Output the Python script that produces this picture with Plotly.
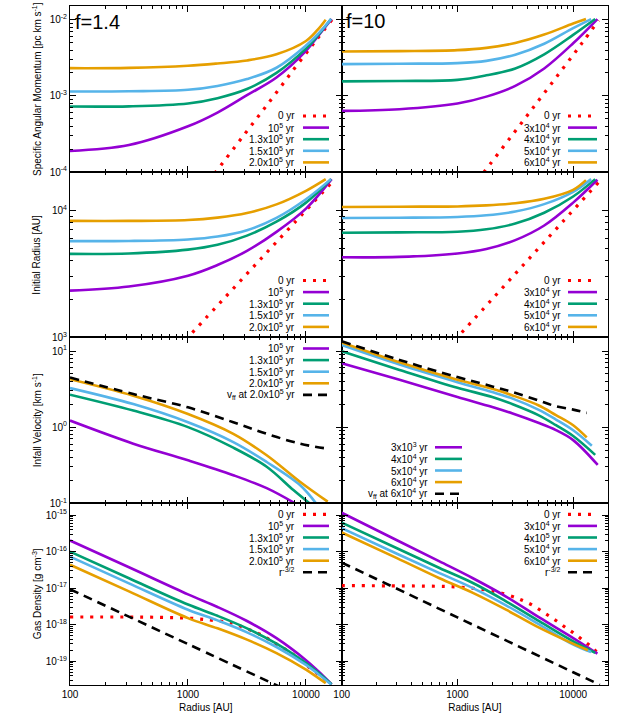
import plotly.graph_objects as go

PURPLE = "#9400D3"; GREEN = "#009E73"; BLUE = "#56B4E9"; ORANGE = "#E69F00"; RED = "#FF0000"; BLACK = "#000000"
FONT = "Liberation Sans, Arial, sans-serif"

# ---------------- data: row 1, specific angular momentum [pc km/s] ----------------
# f = 1.4
j14_r0 = [1500, 1720, 3000, 5000, 8000, 12000, 16600]
j14_v0 = [7.6e-5, 1.0e-4, 3.1e-4, 8.7e-4, 2.3e-3, 5.2e-3, 1.0e-2]
j14_r1 = [100, 316, 1000, 1778, 3162, 5623, 10000, 12589, 16500]
j14_v1 = [1.89e-4, 2.26e-4, 3.98e-4, 6.03e-4, 1.02e-3, 1.74e-3, 3.89e-3, 6.03e-3, 1.02e-2]
j14_r2 = [100, 316, 1000, 1778, 3162, 5623, 10000, 12589, 16300]
j14_v2 = [7.24e-4, 7.28e-4, 7.94e-4, 9.33e-4, 1.23e-3, 2.0e-3, 4.17e-3, 6.17e-3, 1.02e-2]
j14_r3 = [100, 316, 1000, 1778, 3162, 5623, 10000, 12589, 16300]
j14_v3 = [1.14e-3, 1.15e-3, 1.20e-3, 1.35e-3, 1.66e-3, 2.34e-3, 4.57e-3, 6.46e-3, 1.02e-2]
j14_r4 = [100, 316, 1000, 1778, 3162, 5623, 10000, 12589, 14700]
j14_v4 = [2.31e-3, 2.33e-3, 2.48e-3, 2.66e-3, 2.92e-3, 3.51e-3, 5.25e-3, 7.41e-3, 1.0e-2]
# f = 10
j10_r0 = [1500, 1700, 3000, 5000, 8000, 12000, 16600]
j10_v0 = [7.8e-5, 1.0e-4, 3.1e-4, 8.6e-4, 2.2e-3, 5.0e-3, 9.8e-3]
j10_r1 = [100, 316, 1000, 1778, 3162, 5623, 10000, 16200]
j10_v1 = [6.35e-4, 6.68e-4, 7.94e-4, 9.77e-4, 1.35e-3, 2.29e-3, 4.90e-3, 1.02e-2]
j10_r2 = [100, 316, 1000, 1778, 3162, 5623, 10000, 15500]
j10_v2 = [1.55e-3, 1.57e-3, 1.62e-3, 1.86e-3, 2.29e-3, 3.51e-3, 6.31e-3, 1.02e-2]
j10_r3 = [100, 316, 1000, 1778, 3162, 5623, 10000, 14300]
j10_v3 = [2.61e-3, 2.64e-3, 2.69e-3, 2.88e-3, 3.47e-3, 4.84e-3, 7.76e-3, 1.02e-2]
j10_r4 = [100, 316, 1000, 1778, 3162, 5623, 10000, 12900]
j10_v4 = [3.83e-3, 3.87e-3, 3.98e-3, 4.27e-3, 4.95e-3, 6.38e-3, 8.91e-3, 1.02e-2]

# ---------------- data: row 2, initial radius [AU] ----------------
ri14_r0 = [950, 2000, 4000, 8000, 16600]
ri14_v0 = [950, 2000, 4000, 8000, 16600]
ri14_r1 = [100, 316, 1000, 1778, 3162, 5623, 10000, 16500]
ri14_v1 = [2328, 2512, 3055, 3707, 4786, 6761, 10304, 17579]
ri14_r2 = [100, 316, 1000, 1778, 3162, 5623, 10000, 16300]
ri14_v2 = [4539, 4571, 4898, 5346, 6310, 8128, 11482, 17579]
ri14_r3 = [100, 316, 1000, 1778, 3162, 5623, 10000, 16300]
ri14_v3 = [5715, 5728, 5888, 6209, 6966, 8710, 12218, 17579]
ri14_r4 = [100, 316, 1000, 1778, 3162, 5623, 10000, 14700]
ri14_v4 = [8241, 8241, 8375, 8750, 9506, 11117, 14223, 17579]
ri10_r0 = [950, 2000, 4000, 8000, 16600]
ri10_v0 = [950, 2000, 4000, 8000, 16600]
ri10_r1 = [100, 316, 1000, 1778, 3162, 5623, 10000, 16200]
ri10_v1 = [4266, 4295, 4571, 4955, 5821, 7586, 11482, 17378]
ri10_r2 = [100, 316, 1000, 1778, 3162, 5623, 10000, 15500]
ri10_v2 = [6653, 6699, 6776, 7079, 7852, 9550, 12823, 17579]
ri10_r3 = [100, 316, 1000, 1778, 3162, 5623, 10000, 14300]
ri10_v3 = [8690, 8730, 8851, 9120, 9772, 11169, 13964, 17579]
ri10_r4 = [100, 316, 1000, 1778, 3162, 5623, 10000, 12900]
ri10_v4 = [10617, 10666, 10715, 10914, 11350, 12303, 14488, 17258]

# ---------------- data: row 3, infall velocity [km/s] ----------------
v14_r1 = [100, 344, 1000, 2421, 4645, 8070]
v14_v1 = [1.22, 0.607, 0.367, 0.234, 0.158, 0.100]
v14_r2 = [100, 344, 1000, 2421, 4645, 7820, 10700]
v14_v2 = [2.67, 1.65, 1.0, 0.537, 0.302, 0.149, 0.100]
v14_r3 = [100, 344, 1000, 2421, 4645, 8890, 12160]
v14_v3 = [3.26, 2.01, 1.16, 0.637, 0.349, 0.174, 0.100]
v14_r4 = [100, 344, 1000, 2421, 4645, 8890, 15280]
v14_v4 = [4.27, 2.59, 1.49, 0.818, 0.427, 0.192, 0.105]
v14_rff = [100, 344, 1000, 2421, 4645, 8890, 15280]
v14_vff = [4.49, 2.72, 1.82, 1.16, 0.818, 0.607, 0.521]
v10_r1 = [100, 316, 1000, 2000, 3000, 5000, 7100, 10000, 16300]
v10_v1 = [6.90, 4.19, 2.49, 1.84, 1.51, 1.14, 0.914, 0.676, 0.319]
v10_r2 = [100, 316, 1000, 2000, 3000, 5000, 7100, 10000, 15500]
v10_v2 = [9.91, 5.65, 3.29, 2.49, 2.0, 1.44, 1.06, 0.764, 0.432]
v10_r3 = [100, 316, 1000, 2000, 3000, 5000, 7100, 10000, 14500]
v10_v3 = [11.97, 6.64, 3.90, 2.89, 2.37, 1.70, 1.26, 0.912, 0.571]
v10_r4 = [100, 316, 1000, 2000, 3000, 5000, 7100, 10000, 13100]
v10_v4 = [12.97, 7.11, 4.19, 3.19, 2.61, 1.94, 1.44, 1.06, 0.733]
v10_rff = [100, 316, 1000, 2000, 3000, 5000, 7100, 10000, 13100]
v10_vff = [13.4, 7.64, 4.54, 3.43, 2.89, 2.25, 1.88, 1.70, 1.54]

# ---------------- data: row 4, gas density [g/cm^3] ----------------
d14_r0 = [100, 300, 600, 1000, 1500, 2130, 2500, 3040, 3700, 4350, 5120, 6030, 7080, 8320, 10100, 11900, 14000, 16000]
d14_v0 = [1.62e-18, 1.62e-18, 1.58e-18, 1.51e-18, 1.35e-18, 1.17e-18, 1.05e-18, 8.13e-19, 6.31e-19, 4.90e-19,
          3.55e-19, 2.57e-19, 1.91e-19, 1.32e-19, 7.76e-20, 5.13e-20, 3.55e-20, 2.51e-20]
d14_r1 = [100, 316, 1000, 1778, 3162, 5623, 10000, 12589, 16500]
d14_v1 = [2.0e-16, 3.72e-17, 6.76e-18, 3.05e-18, 1.26e-18, 4.27e-19, 1.07e-19, 5.50e-20, 2.34e-20]
d14_r2 = [100, 316, 1000, 1778, 3162, 5623, 10000, 12589, 16500]
d14_v2 = [1.0e-16, 1.86e-17, 3.55e-18, 1.75e-18, 7.94e-19, 3.02e-19, 8.91e-20, 5.01e-20, 2.34e-20]
d14_r3 = [100, 316, 1000, 1778, 3162, 5623, 10000, 12589, 16300]
d14_v3 = [7.24e-17, 1.35e-17, 2.57e-18, 1.31e-18, 6.17e-19, 2.45e-19, 7.94e-20, 4.57e-20, 2.34e-20]
d14_r4 = [100, 316, 1000, 1778, 3162, 5623, 10000, 12589, 14700]
d14_v4 = [4.37e-17, 8.13e-18, 1.51e-18, 7.94e-19, 3.89e-19, 1.66e-19, 5.89e-20, 3.55e-20, 2.51e-20]
d14_rpl = [100, 1000, 6000]
d14_vpl = [9.3e-18, 2.94e-19, 2.0e-20]
d10_r0 = [100, 700, 1000, 1500, 2240, 3240, 3800, 4470, 5300, 6250, 7360, 8710, 10230, 12100, 14300, 16200]
d10_v0 = [1.17e-17, 1.12e-17, 1.07e-17, 9.55e-18, 7.76e-18, 5.37e-18, 4.37e-18, 3.39e-18, 2.40e-18, 1.70e-18,
          1.20e-18, 8.13e-19, 5.75e-19, 3.80e-19, 2.51e-19, 1.70e-19]
d10_r1 = [100, 300, 700, 1360, 2630, 5130, 9930, 16200]
d10_v1 = [1.15e-15, 2.04e-16, 5.37e-17, 1.86e-17, 5.89e-18, 1.55e-18, 4.37e-19, 1.62e-19]
d10_r2 = [100, 300, 700, 1360, 2630, 5130, 9930, 15500]
d10_v2 = [6.17e-16, 1.23e-16, 3.55e-17, 1.38e-17, 4.37e-18, 1.23e-18, 3.55e-19, 1.70e-19]
d10_r3 = [100, 300, 700, 1360, 2630, 5130, 9930, 14300]
d10_v3 = [4.37e-16, 8.71e-17, 2.57e-17, 1.0e-17, 3.39e-18, 1.0e-18, 2.88e-19, 1.78e-19]
d10_r4 = [100, 300, 700, 1360, 2630, 5130, 9930, 13400]
d10_v4 = [3.31e-16, 6.61e-17, 1.86e-17, 7.41e-18, 2.57e-18, 8.13e-19, 3.02e-19, 2.0e-19]
d10_rpl = [100, 1000, 10000, 17000]
d10_vpl = [5.0e-17, 1.58e-18, 5.0e-20, 2.26e-20]

# ---------------- labels ----------------
lab14 = ["0 yr", "10<sup>5</sup> yr", "1.3x10<sup>5</sup> yr", "1.5x10<sup>5</sup> yr", "2.0x10<sup>5</sup> yr"]
lab10 = ["0 yr", "3x10<sup>4</sup> yr", "4x10<sup>4</sup> yr", "5x10<sup>4</sup> yr", "6x10<sup>4</sup> yr"]
lab_v14 = lab14[1:] + ["v<sub>ff</sub> at 2.0x10<sup>5</sup> yr"]
lab_v10 = ["3x10<sup>3</sup> yr", "4x10<sup>4</sup> yr", "5x10<sup>4</sup> yr", "6x10<sup>4</sup> yr",
           "v<sub>ff</sub> at 6x10<sup>4</sup> yr"]
lab_d14 = lab14 + ["r<sup>-3/2</sup>"]
lab_d10 = ["0 yr", "3x10<sup>4</sup> yr", "4x10<sup>5</sup> yr", "5x10<sup>4</sup> yr", "6x10<sup>4</sup> yr",
           "r<sup>-3/2</sup>"]
ytitles = ["Specific Angular Momentum [pc km s<sup>-1</sup>]", "Initial Radius [AU]",
           "Infall Velocity [km s<sup>-1</sup>]", "Gas Density [g cm<sup>-3</sup>]"]
xtick_vals = [100, 1000, 10000]
xtick_text = ["100", "1000", "10000"]

DOT = "3px,7px"
DASH = "9px,6px"
S_RED = (RED, DOT); S_P = (PURPLE, "solid"); S_G = (GREEN, "solid"); S_B = (BLUE, "solid")
S_O = (ORANGE, "solid"); S_K = (BLACK, DASH)

panels = {
    (0, 0): ([(j14_r0, j14_v0, S_RED), (j14_r1, j14_v1, S_P), (j14_r2, j14_v2, S_G), (j14_r3, j14_v3, S_B), (j14_r4, j14_v4, S_O)], lab14),
    (0, 1): ([(j10_r0, j10_v0, S_RED), (j10_r1, j10_v1, S_P), (j10_r2, j10_v2, S_G), (j10_r3, j10_v3, S_B), (j10_r4, j10_v4, S_O)], lab10),
    (1, 0): ([(ri14_r0, ri14_v0, S_RED), (ri14_r1, ri14_v1, S_P), (ri14_r2, ri14_v2, S_G), (ri14_r3, ri14_v3, S_B), (ri14_r4, ri14_v4, S_O)], lab14),
    (1, 1): ([(ri10_r0, ri10_v0, S_RED), (ri10_r1, ri10_v1, S_P), (ri10_r2, ri10_v2, S_G), (ri10_r3, ri10_v3, S_B), (ri10_r4, ri10_v4, S_O)], lab10),
    (2, 0): ([(v14_r1, v14_v1, S_P), (v14_r2, v14_v2, S_G), (v14_r3, v14_v3, S_B), (v14_r4, v14_v4, S_O), (v14_rff, v14_vff, S_K)], lab_v14),
    (2, 1): ([(v10_r1, v10_v1, S_P), (v10_r2, v10_v2, S_G), (v10_r3, v10_v3, S_B), (v10_r4, v10_v4, S_O), (v10_rff, v10_vff, S_K)], lab_v10),
    (3, 0): ([(d14_r0, d14_v0, S_RED), (d14_r1, d14_v1, S_P), (d14_r2, d14_v2, S_G), (d14_r3, d14_v3, S_B), (d14_r4, d14_v4, S_O), (d14_rpl, d14_vpl, S_K)], lab_d14),
    (3, 1): ([(d10_r0, d10_v0, S_RED), (d10_r1, d10_v1, S_P), (d10_r2, d10_v2, S_G), (d10_r3, d10_v3, S_B), (d10_r4, d10_v4, S_O), (d10_rpl, d10_vpl, S_K)], lab_d10),
}

# ---------------- layout geometry (pixels) ----------------
W, H = 620, 720
COLS = [(70, 341.5), (341.7, 608)]
ROWS = [(6, 172), (172, 337.3), (337.3, 503.3), (503.3, 685)]
YRANGES = [[-4, -1.82], [3, 4.301], [-1, 1.18], [-19.65, -14.68]]
YDEC = [(-4, -2), (3, 4), (-1, 1), (-19, -15)]
LEG = {
    (0, 0): (297, 303, 329, 116), (0, 1): (563, 568, 597, 116),
    (1, 0): (297, 303, 329, 280.5), (1, 1): (563, 568, 597, 280.5),
    (2, 0): (297, 303, 329, 348.5), (2, 1): (430, 435, 462, 447.3),
    (3, 0): (297, 303, 329, 514.3), (3, 1): (563, 568, 597, 514.3),
}
PITCH = 11.6


def fx(x):
    return x / W


def fy(y):
    return 1 - y / H


fig = go.Figure()
annotations = []
shapes = []
layout = {}

xminor = [m * 10 ** e for e in range(2, 5) for m in range(2, 10) if m * 10 ** e <= 20000]

for (r, c), (series, labels) in panels.items():
    k = r * 2 + c + 1
    xa = "x" if k == 1 else f"x{k}"
    ya = "y" if k == 1 else f"y{k}"
    for (rv, vv, (col, dash)) in series:
        fig.add_trace(go.Scatter(x=rv, y=vv, mode="lines", xaxis=xa, yaxis=ya, showlegend=False,
                                 line=dict(color=col, width=2.6 if dash != DOT else 3.2, dash=dash,
                                           shape="spline", smoothing=1.0)))
    d0, d1 = YDEC[r]
    yt = [10.0 ** e for e in range(d0, d1 + 1)]
    ytt = [f"10<sup>{e}</sup>" for e in range(d0, d1 + 1)]
    yminor = [m * 10.0 ** e for e in range(d0 - 1, d1 + 1) for m in range(2, 10)]
    common = dict(type="log", showgrid=False, zeroline=False, showline=True, linecolor="black", linewidth=1,
                  mirror="allticks", ticks="inside", ticklen=6, tickwidth=1, tickcolor="black", automargin=False,
                  tickfont=dict(family=FONT, size=10, color="black"))
    xkey = "xaxis" if k == 1 else f"xaxis{k}"
    ykey = "yaxis" if k == 1 else f"yaxis{k}"
    layout[xkey] = dict(common, domain=[fx(COLS[c][0]), fx(COLS[c][1])], range=[2, 4.30103], anchor=ya,
                        tickmode="array", tickvals=xtick_vals, ticktext=xtick_text,
                        showticklabels=(r == 3),
                        minor=dict(tickmode="array", tickvals=xminor, ticks="inside", ticklen=3,
                                   tickcolor="black", showgrid=False),
                        title=dict(text="Radius [AU]" if r == 3 else "", font=dict(family=FONT, size=10, color="black"),
                                   standoff=4))
    layout[ykey] = dict(common, domain=[fy(ROWS[r][1]), fy(ROWS[r][0])], range=YRANGES[r], anchor=xa,
                        tickmode="array", tickvals=yt, ticktext=ytt, showticklabels=(c == 0),
                        minor=dict(tickmode="array", tickvals=yminor, ticks="inside", ticklen=3,
                                   tickcolor="black", showgrid=False))
    if c == 0:
        annotations.append(dict(text=ytitles[r], xref="paper", yref="paper", x=fx(37),
                                y=fy((ROWS[r][0] + ROWS[r][1]) / 2), textangle=-90, showarrow=False,
                                xanchor="center", yanchor="middle",
                                font=dict(family=FONT, size=10, color="black")))
    xt, lx0, lx1, y0 = LEG[(r, c)]
    for i, (lab, (_, _, (col, dash))) in enumerate(zip(labels, series)):
        yy = y0 + i * PITCH
        annotations.append(dict(text=lab, xref="paper", yref="paper", x=fx(xt), y=fy(yy), showarrow=False,
                                xanchor="right", yanchor="middle",
                                font=dict(family=FONT, size=10, color="black")))
        shapes.append(dict(type="line", xref="paper", yref="paper", x0=fx(lx0), x1=fx(lx1), y0=fy(yy), y1=fy(yy),
                           line=dict(color=col, width=2.6 if dash != DOT else 3.2, dash=dash)))

annotations.append(dict(text="f=1.4", xref="paper", yref="paper", x=fx(73), y=fy(22), showarrow=False,
                        xanchor="left", yanchor="middle", font=dict(family=FONT, size=20, color="black")))
annotations.append(dict(text="f=10", xref="paper", yref="paper", x=fx(344), y=fy(21), showarrow=False,
                        xanchor="left", yanchor="middle", font=dict(family=FONT, size=20, color="black")))

fig.update_layout(width=W, height=H, autosize=False, margin=dict(l=0, r=0, t=0, b=0),
                  paper_bgcolor="white", plot_bgcolor="white", showlegend=False, hovermode=False,
                  annotations=annotations, shapes=shapes, **layout)
fig.write_html("out.html", config={"displayModeBar": False, "staticPlot": True},
               post_script="document.body.style.margin='0';document.body.style.overflow='hidden';")
